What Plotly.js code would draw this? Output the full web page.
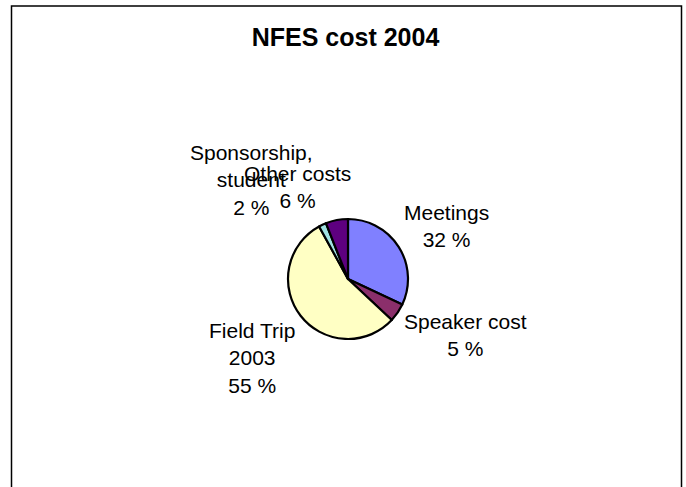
<!DOCTYPE html>
<html>
<head>
<meta charset="utf-8">
<script src="https://cdn.plot.ly/plotly-3.0.1.min.js"></script>
<style>
html,body{margin:0;padding:0;background:#fff;}
#chart{width:686px;height:487px;}
</style>
</head>
<body>
<div id="chart"></div>
<script>
const categories = ["Meetings", "Speaker cost", "Field Trip 2003", "Sponsorship, student", "Other costs"];
const labelLines = ["Meetings", "Speaker cost", "Field Trip<br>2003", "Sponsorship,<br>student", "Other costs"];
const values = [32, 5, 55, 2, 6];
const colors = ["#8080FF", "#8B2F6B", "#FFFFC4", "#A0E2E2", "#5E0080"];
// label anchor positions (px) for the outside data labels
const labelPosX = [446, 466, 252, 251, 297];
const labelPosY = [226, 335, 358, 180, 187];

const W = 686, H = 487;
const total = values.reduce((a, b) => a + b, 0);

const annotations = categories.map((c, i) => ({
  text: labelLines[i] + "<br>" + Math.round(values[i] / total * 100) + " %",
  xref: "paper", yref: "paper",
  x: labelPosX[i] / W, y: 1 - labelPosY[i] / H,
  xanchor: "center", yanchor: "middle",
  showarrow: false, align: "center",
  font: {family: "Liberation Sans, Arial, sans-serif", size: 21, color: "#000"}
}));

const cx = 348, cy = 279, r = 60;
const data = [{
  type: "pie",
  labels: categories,
  values: values,
  sort: false,
  direction: "clockwise",
  rotation: 0,
  textinfo: "none",
  hoverinfo: "label+percent",
  marker: {colors: colors, line: {color: "#000", width: 2.2}},
  domain: {x: [(cx - r) / W, (cx + r) / W], y: [1 - (cy + r) / H, 1 - (cy - r) / H]},
  showlegend: false
}];

const layout = {
  width: W, height: H,
  margin: {l: 0, r: 0, t: 0, b: 0},
  paper_bgcolor: "#fff",
  plot_bgcolor: "#fff",
  showlegend: false,
  title: {
    text: "<b>NFES cost 2004</b>",
    x: 345.5 / W, xanchor: "center",
    y: 1 - 37 / H, yanchor: "middle",
    font: {family: "Liberation Sans, Arial, sans-serif", size: 25, color: "#000"}
  },
  annotations: annotations,
  shapes: [{
    type: "rect", xref: "paper", yref: "paper",
    x0: 11.5 / W, x1: 681.5 / W, y0: -0.1, y1: 1 - 6 / H,
    line: {color: "#000", width: 1.5}, fillcolor: "rgba(0,0,0,0)"
  }]
};

Plotly.newPlot("chart", data, layout, {displayModeBar: false, staticPlot: true});
</script>
</body>
</html>
